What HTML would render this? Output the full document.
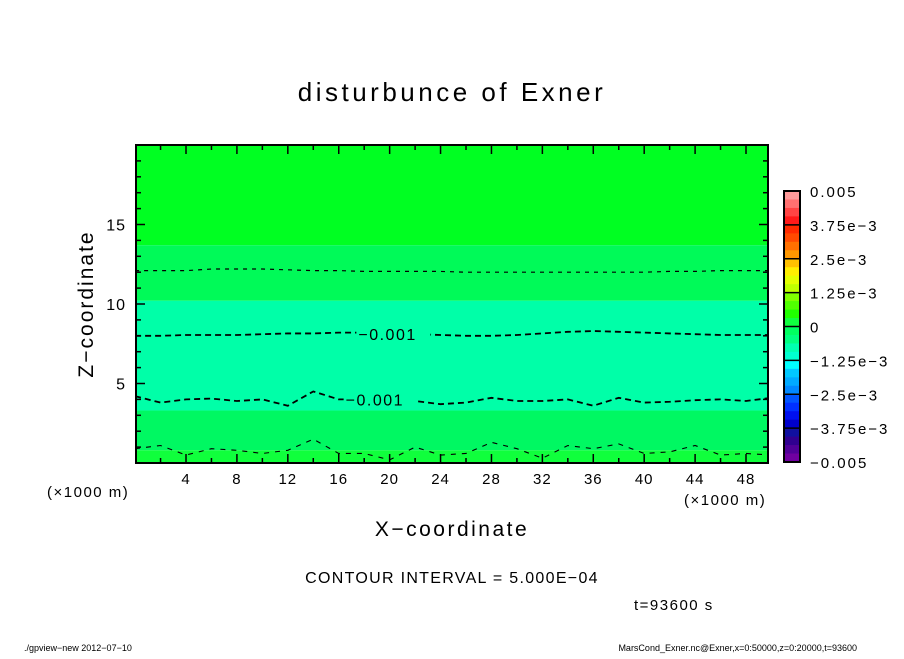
<!DOCTYPE html>
<html><head><meta charset="utf-8">
<style>
body{margin:0;background:#fff;}
svg text{font-family:"Liberation Sans",sans-serif;fill:#000;}
</style></head>
<body>
<svg id="chart" width="904" height="654" viewBox="0 0 904 654" xmlns="http://www.w3.org/2000/svg">
<text x="452" y="101" font-size="26" text-anchor="middle" letter-spacing="3.5">disturbunce of Exner</text>
<g id="plot"></g>
<g id="axes"></g>
<g id="cbar"></g>
<text transform="translate(93,304) rotate(-90)" font-size="21" text-anchor="middle" letter-spacing="2">Z−coordinate</text>
<text x="452" y="536" font-size="21" text-anchor="middle" letter-spacing="2.5">X−coordinate</text>
<text x="47" y="497" font-size="15" letter-spacing="1.5">(×1000 m)</text>
<text x="684" y="505" font-size="15" letter-spacing="1.5">(×1000 m)</text>
<text x="452" y="583" font-size="16" text-anchor="middle" letter-spacing="1.3">CONTOUR INTERVAL = 5.000E−04</text>
<text x="634" y="610" font-size="15" letter-spacing="1.5">t=93600 s</text>
<text x="24" y="651" font-size="9">./gpview−new  2012−07−10</text>
<text x="857" y="651" font-size="9" text-anchor="end">MarsCond_Exner.nc@Exner,x=0:50000,z=0:20000,t=93600</text>
</svg>
<script>
const xCoords=[0,2,4,6,8,10,12,14,16,18,20,22,24,26,28,30,32,34,36,38,40,42,44,46,48,50];
const bandTops=[20,13.7,10.2,3.3,0.8];
const bandColors=["#00ff22","#00fa58","#00ffa8","#00f862","#10ff3c"];
const line12=[12.1,12.1,12.1,12.2,12.2,12.2,12.15,12.1,12.1,12.05,12.05,12.05,12.05,12.0,12.0,12.0,12.0,12.0,12.0,12.0,12.0,12.05,12.05,12.1,12.1,12.1];
const line8=[8.0,8.0,8.05,8.05,8.05,8.1,8.15,8.15,8.2,8.2,8.15,8.1,8.05,8.0,8.0,8.05,8.15,8.25,8.3,8.25,8.2,8.15,8.1,8.05,8.05,8.05];
const line4=[4.2,3.8,4.0,4.05,3.9,4.0,3.6,4.5,4.0,4.0,4.0,3.9,3.7,3.8,4.1,3.9,3.9,4.0,3.6,4.1,3.8,3.85,3.95,4.0,3.9,4.1];
const line1=[0.9,1.1,0.5,0.9,0.8,0.6,0.8,1.5,0.6,0.6,0.2,1.0,0.5,0.6,1.3,0.9,0.3,1.1,0.9,1.2,0.6,0.7,1.1,0.5,0.6,0.5];
const labelVals=["−0.001","−0.001"];
const cbTicks=["0.005","3.75e−3","2.5e−3","1.25e−3","0","−1.25e−3","−2.5e−3","−3.75e−3","−0.005"];
const cbColors=["#ff9a9a","#ff7070","#ff4444","#ff1a1a","#ff2a00","#ff4a00","#ff7000","#ff9800","#ffc000","#ffee00","#e4ff00","#c0ff00","#80ff00","#50ff00","#20ff00","#10ff40","#00ff60","#00ff80","#00ffb0","#00ffd0","#00ffff","#00c8ff","#00aaff","#0088ff","#0055ff","#0030ff","#0010ee","#0000cc","#1010a0","#300090","#500098","#7000a0"];
const NS="http://www.w3.org/2000/svg";
const L=136,R=768,T=145,B=463;
const xs=v=>135.1+v*(560/44);
const ys=v=>B-(v/20)*(B-T);
function mk(tag,attrs,parent){const e=document.createElementNS(NS,tag);for(const k in attrs)e.setAttribute(k,attrs[k]);parent.appendChild(e);return e;}
const plot=document.getElementById('plot');
const clip=mk('clipPath',{id:'pc'},plot);mk('rect',{x:L,y:T,width:R-L,height:B-T},clip);
const pg=mk('g',{'clip-path':'url(#pc)'},plot);
bandTops.forEach((t,i)=>{
 const bot=i+1<bandTops.length?bandTops[i+1]:0;
 const r=mk('rect',{x:L,y:ys(t),width:R-L,height:ys(bot)-ys(t),fill:bandColors[i]},pg);
 
 
});
[[line12,"4,5",1.2],[line8,"6,4",1.8],[line4,"6,4",1.8],[line1,"5,6",1.1]].forEach(([arr,d,w])=>{
 const p=mk('polyline',{points:arr.map((v,i)=>xs(xCoords[i])+','+ys(v)).join(' '),fill:'none',stroke:'#000','stroke-width':w,'stroke-dasharray':d},pg);
 
 
});
[[xs(18.8),ys(8.1),0],[xs(17.8),ys(4.0),1]].forEach(([x,y,i])=>{
 mk('rect',{x:x-18,y:y-9,width:74,height:18,fill:bandColors[2]},pg);
 const t=mk('text',{x:x-16,y:y+6,'font-size':16,'letter-spacing':1.5},pg);t.textContent=labelVals[i];
 
 
});
const ax=document.getElementById('axes');
mk('rect',{x:L,y:T,width:R-L,height:B-T,fill:'none',stroke:'#000','stroke-width':2},ax);
for(let v=2;v<=48;v+=2){const x=xs(v),len=v%4==0?9:5;
 mk('line',{x1:x,y1:B,x2:x,y2:B-len,stroke:'#000','stroke-width':1.5},ax);
 mk('line',{x1:x,y1:T,x2:x,y2:T+len,stroke:'#000','stroke-width':1.5},ax);
 if(v%4==0){const t=mk('text',{x:x,y:484,'font-size':15,'text-anchor':'middle','letter-spacing':1},ax);t.textContent=v;
 }}
for(let v=1;v<20;v++){const y=ys(v),len=v%5==0?9:5;
 mk('line',{x1:L,y1:y,x2:L+len,y2:y,stroke:'#000','stroke-width':1.5},ax);
 mk('line',{x1:R,y1:y,x2:R-len,y2:y,stroke:'#000','stroke-width':1.5},ax);
 if(v%5==0){const t=mk('text',{x:126,y:y+6,'font-size':16,'text-anchor':'end','letter-spacing':1},ax);t.textContent=v;
 }}
const cb=document.getElementById('cbar');
const cT=191,cB=462,cL=784,cW=16,h=(cB-cT)/cbColors.length;
cbColors.forEach((c,i)=>{const r=mk('rect',{x:cL,y:cT+i*h,width:cW,height:h+0.5,fill:c},cb);
 });
mk('rect',{x:cL,y:cT,width:cW,height:cB-cT,fill:'none',stroke:'#000','stroke-width':2},cb);
cbTicks.forEach((s,i)=>{const y=cT+i*(cB-cT)/8;
 if(i>0&&i<8)mk('line',{x1:cL,y1:y,x2:cL+cW,y2:y,stroke:'#000','stroke-width':1.5},cb);
 const t=mk('text',{x:810,y:y+6,'font-size':15,'letter-spacing':2},cb);t.textContent=s;
 });
</script>
</body></html>
